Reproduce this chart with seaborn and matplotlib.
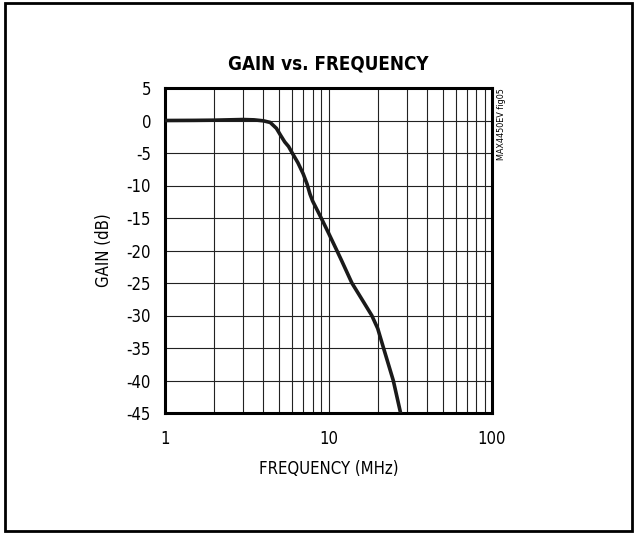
import numpy as np
import pandas as pd
import matplotlib
import matplotlib.pyplot as plt
import seaborn as sns
from matplotlib.patches import Rectangle
from matplotlib.ticker import FixedLocator, NullFormatter

matplotlib.use('Agg')

# curve
freq_mhz = [1.0, 1.5, 2.0, 3.0, 3.5, 4.0, 4.4, 4.8, 5.1, 5.4, 5.7, 6.0, 6.5, 7.0, 7.4,
            7.7, 8.0, 8.9, 10.0, 11.2, 12.0, 13.9, 16.0, 18.4, 20.0, 21.7, 24.9, 27.6]
gain_db = [0.0, 0.02, 0.05, 0.15, 0.1, -0.05, -0.3, -1.2, -2.3, -3.3, -4.0, -5.0, -6.5,
           -8.2, -9.8, -11.3, -12.4, -14.7, -17.3, -19.9, -21.5, -25.0, -27.5, -30.0,
           -32.0, -35.0, -40.0, -45.0]
y_ticks = [5, 0, -5, -10, -15, -20, -25, -30, -35, -40, -45]
x_ticks = [1, 10, 100]
x_tick_labels = ['1', '10', '100']

df = pd.DataFrame({'freq': freq_mhz, 'gain': gain_db})

sns.set_style('white')
plt.rcParams['font.family'] = ['Liberation Sans Narrow', 'DejaVu Sans']
plt.rcParams['font.stretch'] = 'condensed'
plt.rcParams['text.color'] = 'black'
plt.rcParams['axes.labelcolor'] = 'black'
plt.rcParams['xtick.color'] = 'black'
plt.rcParams['ytick.color'] = 'black'

fig = plt.figure(figsize=(6.34, 5.33), dpi=100)
ax = fig.add_axes([165 / 634, 1 - 413 / 533, 327 / 634, 325 / 533])

# grid lines
minor = [m * d for d in (1, 10) for m in range(2, 10)]
for xv in minor + [10]:
    ax.axvline(xv, color='#222222', lw=0.8, zorder=1)
for yv in y_ticks[1:-1]:
    ax.axhline(yv, color='#222222', lw=0.8, zorder=1)

sns.lineplot(data=df, x='freq', y='gain', ax=ax, color='#1a1a1a', lw=2.6, zorder=3)

ax.set_xscale('log')
ax.set_xlim(1, 100)
ax.set_ylim(-45, 5)
ax.xaxis.set_major_locator(FixedLocator(x_ticks))
ax.set_xticklabels(x_tick_labels)
ax.xaxis.set_minor_formatter(NullFormatter())
ax.set_yticks(y_ticks)
ax.set_yticklabels([str(v) for v in y_ticks])
ax.tick_params(axis='both', length=0, labelsize=12, pad=10)
ax.tick_params(axis='x', pad=12)
ax.tick_params(which='minor', length=0)

for s in ax.spines.values():
    s.set_linewidth(2.2)
    s.set_color('black')

ax.set_xlabel('FREQUENCY (MHz)', fontsize=12, labelpad=9)
ax.set_ylabel('GAIN (dB)', fontsize=12, labelpad=10)
ax.set_title('GAIN vs. FREQUENCY', fontsize=13.5, fontweight='bold', pad=13)

fig.text(497 / 634, 1 - 88 / 533, 'MAX4450EV fig05', rotation=90, fontsize=6.5,
         ha='left', va='top')

# frame around the whole figure
fig.patches.append(Rectangle((5 / 634, 2 / 533), 627 / 634, 528 / 533,
                             transform=fig.transFigure, fill=False,
                             edgecolor='black', lw=2))

fig.savefig('out.png', dpi=100)
